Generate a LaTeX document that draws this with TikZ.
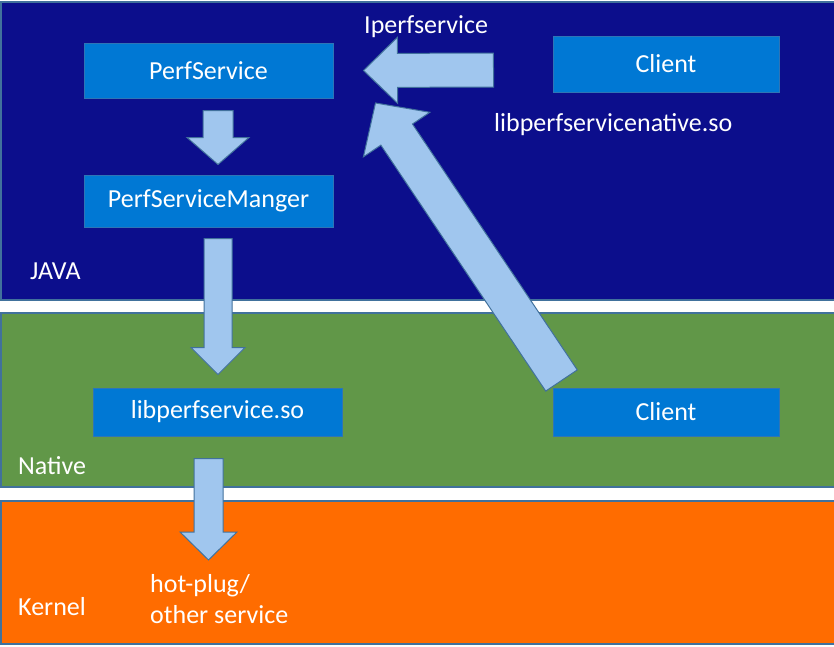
\documentclass[tikz,border=0pt]{standalone}
\usepackage{fontspec}
\setmainfont{Carlito}
\usetikzlibrary{calc}

\definecolor{javabg}{RGB}{12,14,140}
\definecolor{nativebg}{RGB}{97,151,72}
\definecolor{kernelbg}{RGB}{255,108,0}
\definecolor{layerline}{RGB}{65,113,156}
\definecolor{boxfill}{RGB}{0,120,212}
\definecolor{boxline}{RGB}{46,117,182}
\definecolor{arrowfill}{RGB}{160,198,238}
\definecolor{arrowline}{RGB}{65,113,156}

% tail, tip, half shaft width, half head width, head length
\newcommand{\blockarrow}[5]{
    \coordinate (bahead) at ($(#2)!#5!(#1)$);
    \filldraw[blockarrow] ($(#1)!#3!90:(#2)$) -- ($(bahead)!#3!-90:(#1)$)
        -- ($(bahead)!#4!-90:(#1)$) -- (#2) -- ($(bahead)!#4!90:(#1)$)
        -- ($(bahead)!#3!90:(#1)$) -- ($(#1)!#3!-90:(#2)$) -- cycle;
}

\begin{document}
\begin{tikzpicture}[
        x=1pt, y=-1pt,
        every node/.style={text=white, font=\fontsize{26}{31}\selectfont},
        layer/.style={draw=layerline, line width=1.5pt},
        box/.style={fill=boxfill, draw=boxline, line width=1pt, inner sep=0pt},
        tag/.style={anchor=base west, inner sep=0pt},
        blockarrow/.style={fill=arrowfill, draw=arrowline, line width=1pt, line join=miter}
    ]
    \useasboundingbox (0,0) rectangle (834,646);
    \clip (0,0) rectangle (834,646);
    \fill[white] (0,0) rectangle (834,646);

    \draw[layer, fill=javabg] (1,2) rectangle (840,300);
    \draw[layer, fill=nativebg] (1,313) rectangle (840,487);
    \draw[layer, fill=kernelbg] (1,501) rectangle (840,644);

    \node[tag] (java) at (30,279) {JAVA};
    \node[tag] (native) at (18,474) {Native};
    \node[tag] (kernel) at (18,615) {Kernel};

    \node[box, minimum width=249pt, minimum height=55pt] (ps) at (208.5,70.5) {PerfService};
    \node[box, minimum width=249pt, minimum height=52pt] (psm) at (208.5,201) {PerfServiceManger};
    \node[box, minimum width=226pt, minimum height=56pt] (cl) at (666,64) {Client};
    \node[box, minimum width=249pt, minimum height=48pt] (lib) at (217.5,412) {libperfservice.so};
    \node[box, minimum width=226pt, minimum height=48pt] (clb) at (666,412) {Client};

    \node[tag] (iperf) at (364,33) {Iperfservice};
    \node[tag] (nativeso) at (494,131) {libperfservicenative.so};
    \node[tag] (hotplug) at (150,592) {hot-plug/};
    \node[tag] (other) at (150,623) {other service};

    \coordinate (a1s) at ($(ps.south)+(9.5,12)$);
    \coordinate (a1e) at ($(psm.north)+(9.5,-10)$);
    \coordinate (a2s) at ($(psm.south)+(9.5,11)$);
    \coordinate (a2e) at ($(lib.north)+(0.5,-13)$);
    \coordinate (a3s) at ($(lib.south)+(-9,22)$);
    \coordinate (a3e) at (208.5,560);
    \coordinate (a4s) at ($(cl.west)+(-59,6)$);
    \coordinate (a4e) at ($(ps.east)+(30,0)$);
    \coordinate (a5s) at ($(clb.north west)+(9,-7)$);
    \coordinate (a5e) at ($(ps.east)+(42,32.5)$);

    \blockarrow{a1s}{a1e}{15pt}{31pt}{27pt}
    \blockarrow{a2s}{a2e}{14pt}{27pt}{27pt}
    \blockarrow{a3s}{a3e}{14.5pt}{28.5pt}{28pt}
    \blockarrow{a4s}{a4e}{17pt}{33pt}{34pt}
    \blockarrow{a5s}{a5e}{19pt}{40pt}{38pt}
\end{tikzpicture}
\end{document}
